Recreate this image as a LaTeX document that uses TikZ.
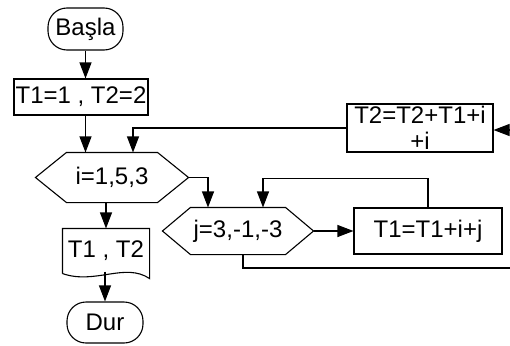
\documentclass[tikz,border=0pt]{standalone}
\usepackage{fontspec}
\setmainfont{Liberation Sans}
\usetikzlibrary{arrows.meta,calc}
\begin{document}
\begin{tikzpicture}[x=1pt,y=-1pt,
  line width=1.1pt,
  every node/.style={font=\fontsize{24}{27}\selectfont, inner sep=0pt},
  boxst/.style={draw, rectangle},
  termst/.style={draw, rectangle, rounded corners=19pt},
  plain/.style={draw=none},
  arr/.style={-{Triangle[length=16pt,width=12pt]}}]
\useasboundingbox (0,0) rectangle (510,345);
\fill[white] (0,0) rectangle (510,345);
\clip (0,0) rectangle (510,345);

\node[termst, minimum width=75pt, minimum height=42pt] (basla) at (85.5,29) {Başla};
\node[boxst, minimum width=134pt, minimum height=36pt] (init) at (81,97) {T1=1 , T2=2};
\node[plain, minimum width=152pt, minimum height=49pt] (ihex) at (112,177.5) {i=1,5,3};
\draw (ihex.west) -- ([xshift=31pt]ihex.north west) -- ([xshift=-31pt]ihex.north east)
  -- (ihex.east) -- ([xshift=-31pt]ihex.south east) -- ([xshift=31pt]ihex.south west) -- cycle;
\node[plain, minimum width=86pt, minimum height=44pt] (out) at (106,251) {T1 , T2};
\draw (out.south west) -- (out.north west) -- (out.north east) -- ([yshift=-5pt]out.south east)
  .. controls (125,262) and (95,285) .. (out.south west);
\node[termst, minimum width=76pt, minimum height=41pt] (dur) at (105,322.5) {Dur};
\node[plain, minimum width=150pt, minimum height=46pt] (jhex) at (238,231) {j=3,-1,-3};
\draw (jhex.west) -- ([xshift=28pt]jhex.north west) -- ([xshift=-28pt]jhex.north east)
  -- (jhex.east) -- ([xshift=-28pt]jhex.south east) -- ([xshift=28pt]jhex.south west) -- cycle;
\node[boxst, minimum width=148pt, minimum height=46pt] (t1) at (428,231) {T1=T1+i+j};
\node[boxst, minimum width=146pt, minimum height=48pt, align=center] (t2) at (420,128)
  {T2=T2+T1+i\\[-1pt]+i};
\coordinate (farA) at (530,268);
\coordinate (farB) at (530,130);

\draw[arr] (basla.south) -- (basla.south |- init.north);
\draw[arr] (basla.south |- init.south) -- (basla.south |- ihex.north);
\draw[arr] (t2.west) -| ([xshift=21pt]ihex.north);
\draw[arr] (out.north |- ihex.south) -- (out.north);
\draw[arr] (out.south -| dur.north) ++(0,-2) -- (dur.north);
\draw[arr] (ihex.east) -| ([xshift=-30pt]jhex.north);
\draw[arr] (jhex.east) -- (t1.west);
\draw[arr] (t1.north) -- ++(0,-29) -| ([xshift=25pt]jhex.north);
\draw[arr] ([xshift=5pt]jhex.south) |- (farA) -- (farB) -- (t2.east |- farB);
\end{tikzpicture}
\end{document}
